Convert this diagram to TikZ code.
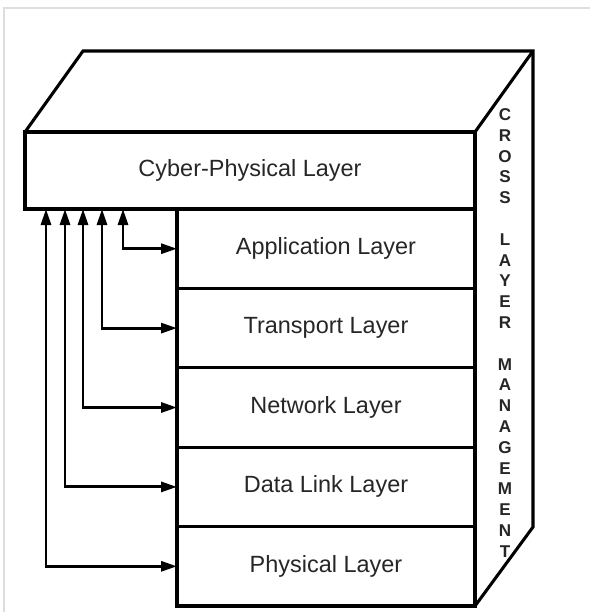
\documentclass[tikz,border=0pt]{standalone}
\usepackage{fontspec}
\setmainfont{Liberation Sans}
\usepackage{tikz}
\usetikzlibrary{positioning, arrows.meta}

\begin{document}
\begin{tikzpicture}[x=0.75pt, y=-0.75pt, node distance=59.55pt,
    box/.style={draw, line width=2.3pt, outer sep=0pt, inner sep=0pt},
    layer/.style={box, minimum width=223.5pt, minimum height=59.55pt,
                  font=\fontsize{17.6}{20}\selectfont, text=black!85},
    link/.style={line width=2.2pt, {Triangle[length=12pt, width=7.5pt]}-{Triangle[length=12pt, width=7.5pt]}}]
                    \useasboundingbox (0,0) rectangle (590,612);
                    \draw[black!13, line width=0.8pt] (4,612) -- (4,8) -- (590,8);
                    % front boxes
                    \node (cp) [box, minimum width=337.5pt, minimum height=57.75pt,
                                font=\fontsize{17.6}{20}\selectfont, text=black!85] at (250,170.5) {Cyber-Physical Layer};
                    \node (app) [layer, anchor=north east] at (cp.south east) {Application Layer};
                    \node (tra) [layer, below of=app] {Transport Layer};
                    \node (net) [layer, below of=tra] {Network Layer};
                    \node (dll) [layer, below of=net] {Data Link Layer};
                    \node (phy) [layer, below of=dll] {Physical Layer};
                    % top and side faces
                    \draw[line width=2.3pt] (cp.north west) -- ++(58,-81) coordinate (bl)
                          -- ++(450,0) coordinate (br) -- ++(0,476) -- (phy.south east);
                    \draw[line width=2.3pt] (cp.north east) -- (br);
                    \node (clm) [align=center, inner sep=0pt, font=\bfseries\fontsize{12.8}{15.6}\selectfont, text=black!85]
                          at (505,333) {C\\R\\O\\S\\S\\~\\L\\A\\Y\\E\\R\\~\\M\\A\\N\\A\\G\\E\\M\\E\\N\\T};
                    % taps on the cyber-physical layer
                    \coordinate (tapp) at (123,209);
                    \coordinate (ttra) at (102,209);
                    \coordinate (tnet) at (83,209);
                    \coordinate (tdll) at (65,209);
                    \coordinate (tphy) at (46,209);
                    \draw[link] (tapp) |- (app.west);
                    \draw[link] (ttra) |- (tra.west);
                    \draw[link] (tnet) |- (net.west);
                    \draw[link] (tdll) |- (dll.west);
                    \draw[link] (tphy) |- (phy.west);
                \end{tikzpicture}
\end{document}
